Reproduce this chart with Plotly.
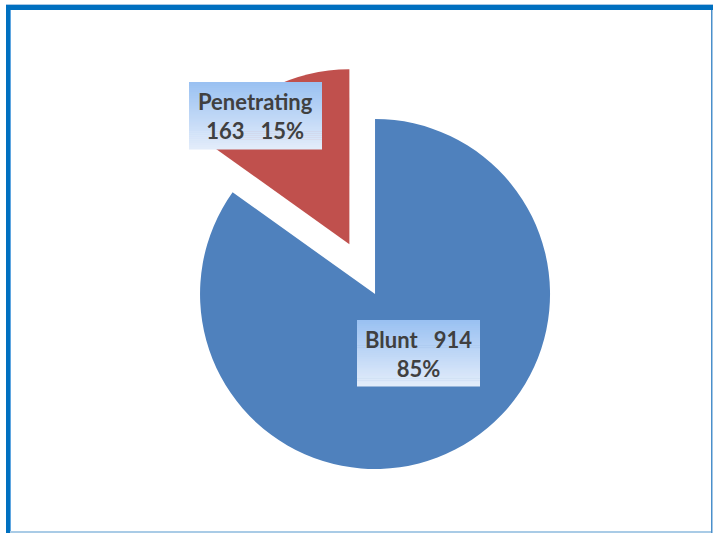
import plotly.graph_objects as go

labels = ["Blunt", "Penetrating"]
values = [914, 163]
colors = ["#4F81BD", "#C0504D"]

W, H = 713, 533
def px(x): return x / W
def py(y): return 1 - y / H

total = sum(values)
pcts = [round(v * 100 / total) for v in values]
NB = "\u00a0"

fig = go.Figure(go.Pie(
    labels=labels, values=values, sort=False, direction="clockwise", rotation=0,
    pull=[0, 0.32], marker=dict(colors=colors, line=dict(width=0)),
    textinfo="none", hoverinfo="label+value+percent", showlegend=False,
    domain=dict(x=[0.202, 0.850], y=[0.015, 0.8818]),
))

shapes = []
def grad_box(x0, y0, x1, y1, c0=(0x9A, 0xC1, 0xF2), c1=(0xE2, 0xEC, 0xFA), n=34):
    h = (y1 - y0) / n
    for i in range(n):
        t = i / (n - 1)
        c = tuple(int(round(a + (b - a) * t)) for a, b in zip(c0, c1))
        col = "rgb(%d,%d,%d)" % c
        shapes.append(dict(type="rect", xref="paper", yref="paper", layer="above",
                           x0=px(x0), x1=px(x1), y0=py(y0 + i * h), y1=py(y0 + (i + 1) * h + 0.6),
                           fillcolor=col, line=dict(width=0)))

grad_box(189, 82, 322, 149)
grad_box(357, 320, 480, 386)

# frame
def rect(x0, y0, x1, y1, col):
    shapes.append(dict(type="rect", xref="paper", yref="paper", layer="above",
                       x0=px(x0), x1=px(x1), y0=py(y1), y1=py(y0), fillcolor=col, line=dict(width=0)))
rect(6, 4, 713, 5, "#A8C8E6")
rect(6, 5, 713, 10, "#0070C0")
rect(6, 5, 10, 533, "#0070C0")
rect(10, 10, 11, 533, "#5FA6E0")
rect(711, 10, 712.5, 533, "#4A8FCB")
rect(10, 531, 711, 533, "#A9CBE6")

font = dict(family="Lato, Open Sans, sans-serif", size=22, color="#404040")
annotations = [
    dict(xref="paper", yref="paper", x=px(255.5), y=py(116), xanchor="center", yanchor="middle",
         showarrow=False, align="center", font=font,
         text="<b>%s<br>%d%s%s%d%%</b>" % (labels[1], values[1], NB, NB + NB, pcts[1])),
    dict(xref="paper", yref="paper", x=px(418.5), y=py(354), xanchor="center", yanchor="middle",
         showarrow=False, align="center", font=font,
         text="<b>%s%s%s%d<br>%d%%</b>" % (labels[0], NB, NB + NB, values[0], pcts[0])),
]

fig.update_layout(width=W, height=H, margin=dict(l=0, r=0, t=0, b=0),
                  paper_bgcolor="white", plot_bgcolor="white",
                  shapes=shapes, annotations=annotations)
fig.write_html("out.html", config={"displayModeBar": False},
               post_script="document.body.style.margin='0';document.body.style.padding='0';")
